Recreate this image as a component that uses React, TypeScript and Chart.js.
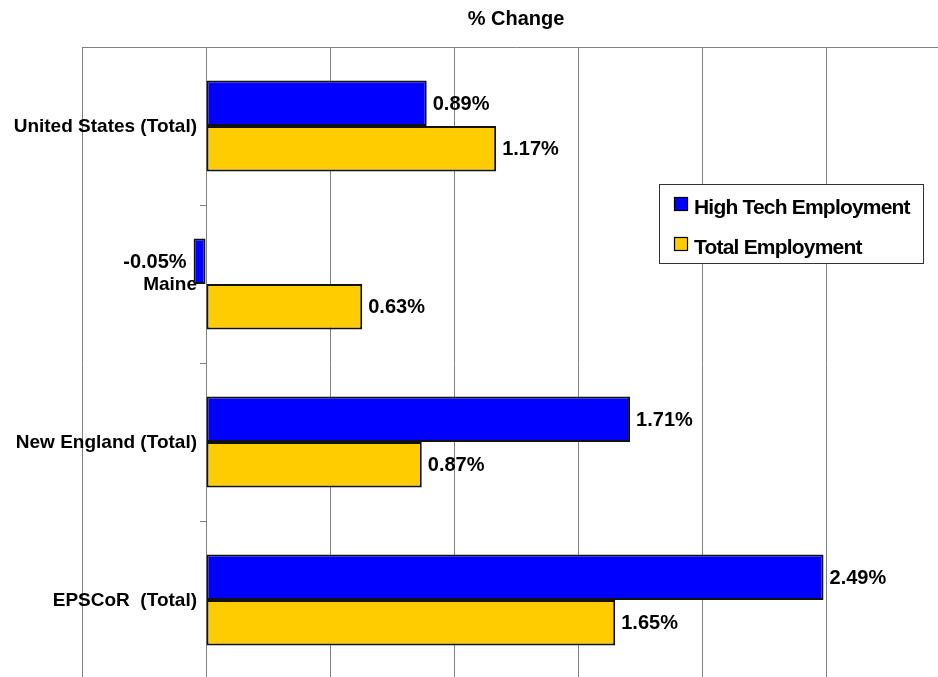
import React, { useEffect, useRef } from "react";
import { Chart, registerables } from "chart.js";

Chart.register(...registerables);

const categories = ["United States (Total)", "Maine", "New England (Total)", "EPSCoR  (Total)"];
const highTech = [0.89, -0.05, 1.71, 2.49];
const totalEmployment = [1.17, 0.63, 0.87, 1.65];
const seriesNames = ["High Tech Employment", "Total Employment"];
const seriesColors = ["#0000FF", "#FFCC00"];
const xMin = -0.5;
const xMax = 3;
const xStep = 0.5;
const chartTitle = "% Change";

const FONT = "'Liberation Sans', Arial, sans-serif";

// Category labels drawn next to the zero axis (Chart.js puts them flush on the axis otherwise)
const categoryLabelPlugin = {
  id: "categoryLabels",
  beforeDatasetsDraw(chart: any) {
    const ctx = chart.ctx;
    const yScale = chart.scales.y;
    const xScale = chart.scales.x;
    const axisX = xScale.getPixelForValue(0);
    ctx.save();
    ctx.font = `bold 19px ${FONT}`;
    ctx.fillStyle = "#000";
    ctx.textAlign = "right";
    ctx.textBaseline = "middle";
    (chart.data.labels as string[]).forEach((lab, i) => {
      ctx.fillText(lab, axisX - 9, yScale.getPixelForTick(i) + 1);
    });
    ctx.restore();
  },
};

const dataLabelPlugin = {
  id: "dataLabels",
  afterDatasetsDraw(chart: any) {
    const ctx = chart.ctx;
    ctx.save();
    ctx.font = `bold 20px ${FONT}`;
    ctx.fillStyle = "#000";
    ctx.textBaseline = "middle";
    chart.data.datasets.forEach((ds: any, di: number) => {
      const meta = chart.getDatasetMeta(di);
      meta.data.forEach((bar: any, i: number) => {
        const v = ds.data[i] as number;
        const txt = v.toFixed(2) + "%";
        if (v >= 0) {
          ctx.textAlign = "left";
          ctx.fillText(txt, bar.x + 6, bar.y + 1);
        } else {
          ctx.textAlign = "right";
          ctx.fillText(txt, bar.x - 7, bar.y + 1);
        }
      });
    });
    ctx.restore();
  },
};

const boxLegendPlugin = {
  id: "boxLegend",
  afterDraw(chart: any) {
    const ctx = chart.ctx;
    const x0 = 659;
    const y0 = 184;
    const w = 264;
    const h = 79;
    ctx.save();
    ctx.fillStyle = "#fff";
    ctx.fillRect(x0, y0, w, h);
    ctx.strokeStyle = "#333";
    ctx.lineWidth = 1;
    ctx.strokeRect(x0 + 0.5, y0 + 0.5, w, h);
    ctx.font = `bold 21px ${FONT}`;
    try {
      (ctx as any).letterSpacing = "-0.8px";
    } catch (e) {}
    ctx.textBaseline = "middle";
    ctx.textAlign = "left";
    chart.data.datasets.forEach((ds: any, i: number) => {
      const sy = 197 + i * 40;
      ctx.fillStyle = ds.backgroundColor;
      ctx.fillRect(674, sy, 14, 14);
      ctx.strokeStyle = "#000";
      ctx.lineWidth = 1.2;
      ctx.strokeRect(674.5, sy + 0.5, 13, 13);
      ctx.fillStyle = "#000";
      ctx.fillText(ds.label, 694, sy + 11);
    });
    ctx.restore();
  },
};

export default function App() {
  const canvasRef = useRef<HTMLCanvasElement | null>(null);

  useEffect(() => {
    if (!canvasRef.current) return;
    const chart = new Chart(canvasRef.current, {
      type: "bar",
      data: {
        labels: categories,
        datasets: [
          {
            label: seriesNames[0],
            data: highTech,
            backgroundColor: seriesColors[0],
            borderColor: "#111",
            borderWidth: 2,
            borderSkipped: false,
          },
          {
            label: seriesNames[1],
            data: totalEmployment,
            backgroundColor: seriesColors[1],
            borderColor: "#111",
            borderWidth: 2,
            borderSkipped: false,
          },
        ],
      },
      options: {
        indexAxis: "y",
        responsive: false,
        animation: false,
        layout: { padding: { left: 82, right: 0, top: 0, bottom: 0 } },
        datasets: { bar: { categoryPercentage: 0.576, barPercentage: 1 } },
        plugins: {
          legend: { display: false },
          tooltip: { enabled: false },
          title: {
            display: true,
            text: chartTitle,
            color: "#000",
            font: { family: FONT, size: 20, weight: "bold" },
            padding: { top: 7, bottom: 16 },
          },
        },
        scales: {
          x: {
            type: "linear",
            position: "top",
            min: xMin,
            max: xMax,
            ticks: { display: false, stepSize: xStep },
            grid: { color: "#808080", lineWidth: 1, drawTicks: false },
            border: { display: true, color: "#808080", width: 1 },
          },
          y: {
            type: "category",
            position: { x: 0 } as any,
            grid: { drawOnChartArea: false, offset: true, tickLength: 6, color: "#808080" },
            border: { display: true, color: "#808080", width: 1 },
            ticks: { display: false },
            afterFit(scale: any) {
              scale.paddingTop = 0;
              scale.paddingBottom = 0;
              scale.paddingLeft = 0;
              scale.paddingRight = 0;
            },
          },
        },
      } as any,
      plugins: [categoryLabelPlugin, dataLabelPlugin, boxLegendPlugin],
    });
    return () => chart.destroy();
  }, []);

  return (
    <div
      style={{
        position: "fixed",
        left: 0,
        top: 0,
        width: 938,
        height: 677,
        overflow: "hidden",
        background: "#fff",
      }}
    >
      <canvas ref={canvasRef} width={950} height={679} style={{ display: "block" }} />
    </div>
  );
}
